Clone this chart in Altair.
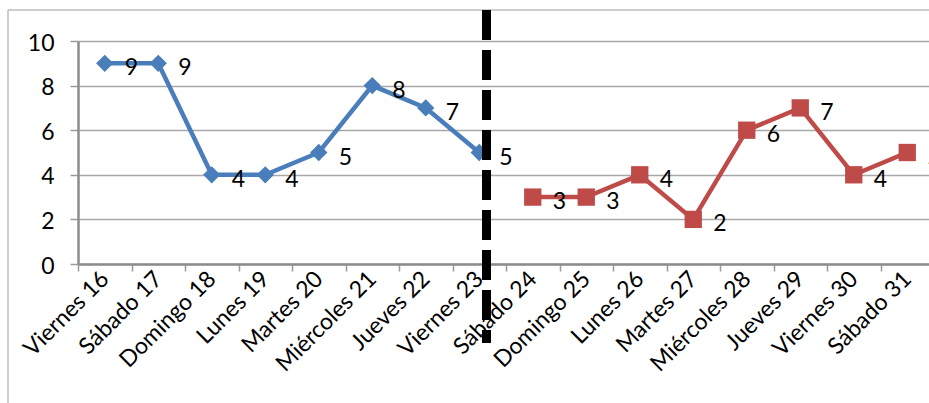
import altair as alt
import pandas as pd

# Days of the second half of the month
dias = [
    "Viernes 16", "Sábado 17", "Domingo 18", "Lunes 19", "Martes 20",
    "Miércoles 21", "Jueves 22", "Viernes 23", "Sábado 24", "Domingo 25",
    "Lunes 26", "Martes 27", "Miércoles 28", "Jueves 29", "Viernes 30",
    "Sábado 31",
]
# First week (blue) and second week (red)
valores_azul = [9, 9, 4, 4, 5, 8, 7, 5]
valores_rojo = [3, 3, 4, 2, 6, 7, 4, 5]

series = ["A"] * len(valores_azul) + ["B"] * len(valores_rojo)
df = pd.DataFrame({
    "dia": dias,
    "valor": valores_azul + valores_rojo,
    "serie": series,
})

FONT = "Lato"
FS = 23
AZUL = "#4A7EBB"
ROJO = "#BE4B48"

x_scale = alt.Scale(type="band", range=[0, 856], paddingInner=0, paddingOuter=0)

x_enc = alt.X(
    "dia:N",
    sort=dias,
    title=None,
    scale=x_scale,
    axis=alt.Axis(
        labelAngle=-45,
        labelAlign="right",
        labelBaseline="middle",
        labelPadding=4,
        labelFont=FONT,
        labelFontSize=FS,
        labelColor="#000000",
        tickBand="extent",
        tickSize=7,
        tickColor="#9a9a9a",
        tickWidth=1.5,
        domainColor="#8c8c8c",
        domainWidth=2.5,
        grid=False,
        labelOverlap=False,
    ),
)
y_enc = alt.Y(
    "valor:Q",
    title=None,
    scale=alt.Scale(domain=[0, 10], nice=False, zero=True),
    axis=alt.Axis(
        values=[0, 2, 4, 6, 8, 10],
        labelFont=FONT,
        labelFontSize=FS,
        labelColor="#000000",
        labelPadding=16,
        labelBaseline="middle",
        labelOffset=2,
        tickSize=8,
        tickColor="#9a9a9a",
        tickWidth=1.5,
        domainColor="#8c8c8c",
        domainWidth=2.5,
        grid=True,
        gridColor="#a8a8a8",
        gridWidth=1.5,
    ),
)
color_enc = alt.Color(
    "serie:N",
    scale=alt.Scale(domain=["A", "B"], range=[AZUL, ROJO]),
    legend=None,
)

base = alt.Chart(df)

lines = base.mark_line(strokeWidth=4.5).encode(x=x_enc, y=y_enc, color=color_enc)

points = base.mark_point(filled=True, opacity=1, size=300).encode(
    x=x_enc,
    y=y_enc,
    color=color_enc,
    shape=alt.Shape(
        "serie:N",
        scale=alt.Scale(domain=["A", "B"], range=["diamond", "square"]),
        legend=None,
    ),
)

labels = base.mark_text(
    align="left", baseline="middle", dx=20, dy=5, font=FONT, fontSize=FS, color="#000000"
).encode(x=x_enc, y=y_enc, text="valor:Q")

# Week separator: thick dashed vertical line just after Viernes 23
# (the rule sits at the band's start, so shift it past the band centre)
separador = alt.Chart(pd.DataFrame({"dia": ["Viernes 23"]})).mark_rule(
    color="#000000", strokeWidth=9, strokeDash=[30, 10]
).encode(
    x=alt.X("dia:N", sort=dias, scale=x_scale),
    xOffset=alt.value(34),
    y=alt.value(-31),
    y2=alt.value(302),
)

# Light frame of the chart area
marco_sup = alt.Chart(pd.DataFrame({"k": [0]})).mark_rule(color="#bdbdbd", strokeWidth=1.5).encode(
    x=alt.value(-70), x2=alt.value(900), y=alt.value(-31)
)
marco_izq = alt.Chart(pd.DataFrame({"k": [0]})).mark_rule(color="#bdbdbd", strokeWidth=1.5).encode(
    x=alt.value(-70), y=alt.value(-31), y2=alt.value(400)
)

chart = alt.layer(marco_sup, marco_izq, lines, points, labels, separador).properties(
    width=851,
    height=223,
    padding={"left": 78, "top": 41, "right": 0, "bottom": 139},
    autosize=alt.AutoSizeParams(type="none"),
    background="#ffffff",
).configure_view(stroke=None)

chart.save("out.html", embed_options={"renderer": "svg", "actions": False})
